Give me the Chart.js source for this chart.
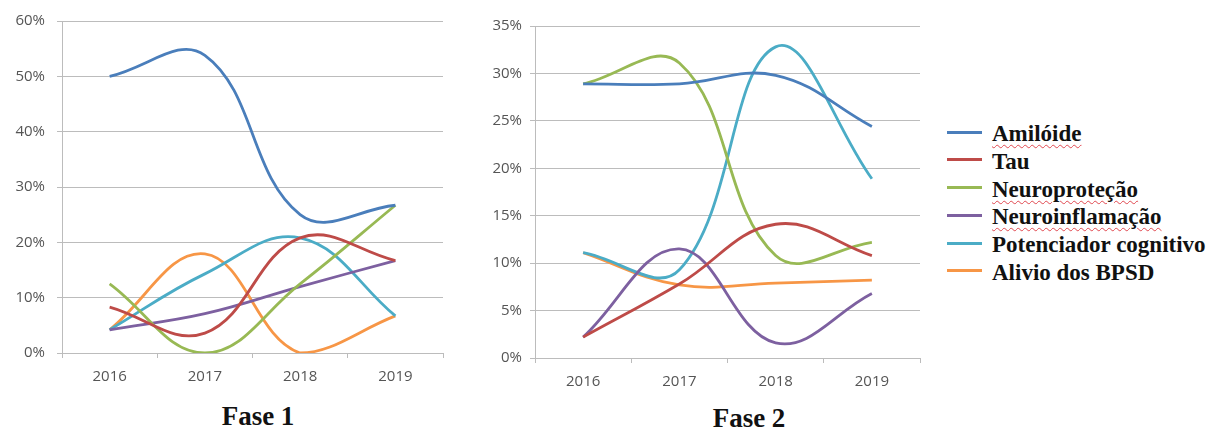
<!DOCTYPE html>
<html lang="pt">
<head>
<meta charset="utf-8">
<title>Fase 1 / Fase 2</title>
<script src="https://cdn.jsdelivr.net/npm/chart.js@4/dist/chart.umd.min.js"></script>
<style>
  html, body { margin: 0; padding: 0; background: #fff; }
  body { width: 1209px; height: 430px; position: relative; overflow: hidden; }
  .panel { position: absolute; }
  .title {
    position: absolute; font-family: "Liberation Serif", "Times New Roman", serif;
    font-weight: bold; font-size: 27px; line-height: 30px; color: #111;
    white-space: nowrap; transform: translateX(-50%);
  }
  #legend {
    position: absolute; left: 947px; top: 120px;
    font-family: "Liberation Serif", "Times New Roman", serif;
    font-weight: bold; font-size: 23px; color: #111;
  }
  #legend .row { height: 27.8px; line-height: 27.8px; white-space: nowrap; }
  #legend .swatch {
    display: inline-block; width: 35px; height: 3px; margin-right: 10px;
    vertical-align: 7.5px;
  }
  #legend .spell {
    text-decoration: underline wavy #e0484f;
    text-decoration-thickness: 1px; text-underline-offset: 3px;
  }
</style>
</head>
<body>
<div class="panel" style="left:0;top:0;"><canvas id="fase1" width="450" height="390"></canvas></div>
<div class="panel" style="left:480px;top:0;"><canvas id="fase2" width="445" height="395"></canvas></div>
<div class="title" style="left:258px;top:401px;">Fase 1</div>
<div class="title" style="left:749px;top:403px;">Fase 2</div>
<div id="legend"></div>

<script>
// Categories
const years = ['2016', '2017', '2018', '2019'];

// Series names and line colours
const seriesNames = ['Amilóide', 'Tau', 'Neuroproteção', 'Neuroinflamação', 'Potenciador cognitivo', 'Alivio dos BPSD'];
const seriesColors = ['#4a7ebb', '#be4b48', '#98b954', '#7d60a0', '#4bacc6', '#f79646'];
// names shown with the red spell-check squiggle in the legend
const squiggled = ['Amilóide', 'Neuroproteção', 'Neuroinflamação'];

// Fase 1 (% per year)
const f1Amiloide        = [50.0, 53.8, 25.0, 26.7];
const f1Tau             = [8.3, 3.6, 20.8, 16.7];
const f1Neuroprotecao   = [12.5, 0.0, 12.5, 26.7];
const f1Neuroinflamacao = [4.2, 7.1, 12.0, 16.7];
const f1Potenciador     = [4.2, 14.3, 20.8, 6.7];
const f1Alivio          = [4.2, 17.9, 0.0, 6.7];

// Fase 2 (% per year)
const f2Amiloide        = [28.9, 28.9, 29.8, 24.4];
const f2Tau             = [2.2, 7.8, 14.1, 10.8];
const f2Neuroprotecao   = [28.9, 31.1, 10.8, 12.2];
const f2Neuroinflamacao = [2.2, 11.5, 1.6, 6.8];
const f2Potenciador     = [11.1, 9.3, 32.8, 18.9];
const f2Alivio          = [11.1, 7.7, 7.9, 8.2];

// Y axis tick settings
const f1YMax = 60, f1YStep = 10;
const f2YMax = 35, f2YStep = 5;

const fase1Series = [f1Amiloide, f1Tau, f1Neuroprotecao, f1Neuroinflamacao, f1Potenciador, f1Alivio];
const fase2Series = [f2Amiloide, f2Tau, f2Neuroprotecao, f2Neuroinflamacao, f2Potenciador, f2Alivio];

const gridColor = '#bcbcbc';
const tickFont = { family: '"Open Sans", "Liberation Sans", sans-serif', size: 15 };
const tickColor = '#555555';

function buildChart(canvasId, series, yMax, yStep, yAxisWidth, yPad, padTop, padRight) {
  return new Chart(document.getElementById(canvasId), {
    type: 'line',
    data: {
      labels: years,
      datasets: series.map((vals, i) => ({
        label: seriesNames[i],
        data: vals,
        borderColor: seriesColors[i],
        backgroundColor: seriesColors[i],
        borderWidth: 2.8,
        pointRadius: 0,
        pointHoverRadius: 0,
        tension: 0.4,
        fill: false
      }))
    },
    options: {
      responsive: false,
      animation: false,
      events: [],
      layout: { padding: { top: padTop, right: padRight, left: 0, bottom: 0 } },
      plugins: { legend: { display: false }, tooltip: { enabled: false } },
      scales: {
        y: {
          min: 0, max: yMax,
          ticks: {
            stepSize: yStep, padding: yPad, color: tickColor, font: tickFont,
            callback: v => v + '%'
          },
          grid: { color: gridColor, lineWidth: 1, tickLength: 5, drawTicks: true },
          border: { display: true, color: gridColor, width: 1 },
          afterFit: s => { s.width = yAxisWidth; }
        },
        x: {
          offset: true,
          ticks: { padding: 10, color: tickColor, font: tickFont, maxRotation: 0 },
          grid: { offset: true, drawOnChartArea: false, drawTicks: true, tickLength: 5, color: gridColor },
          border: { display: true, color: gridColor, width: 1 },
          afterFit: s => { s.height = 37; }
        }
      }
    }
  });
}

buildChart('fase1', fase1Series, f1YMax, f1YStep, 62, 12, 20, 7);
buildChart('fase2', fase2Series, f2YMax, f2YStep, 55, 8, 26, 5);

// Legend shared by both charts
const legend = document.getElementById('legend');
seriesNames.forEach((name, i) => {
  const row = document.createElement('div');
  row.className = 'row';
  const sw = document.createElement('span');
  sw.className = 'swatch';
  sw.style.background = seriesColors[i];
  const txt = document.createElement('span');
  txt.textContent = name;
  if (squiggled.includes(name)) txt.className = 'spell';
  row.appendChild(sw);
  row.appendChild(txt);
  legend.appendChild(row);
});
</script>
</body>
</html>
